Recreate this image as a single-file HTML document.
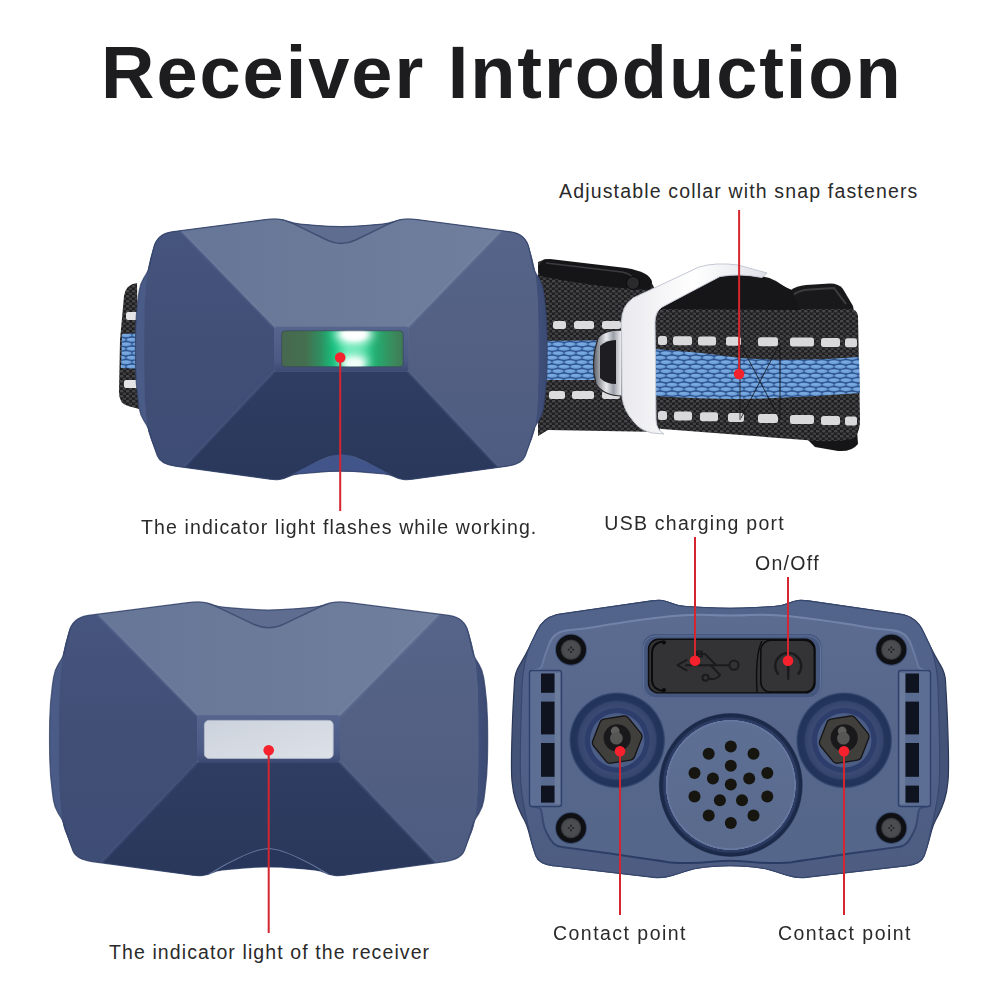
<!DOCTYPE html>
<html lang="en">
<head>
<meta charset="utf-8">
<title>Receiver Introduction</title>
<style>
html,body{margin:0;padding:0;background:#fff;}
body{width:1000px;height:1000px;position:relative;overflow:hidden;font-family:"Liberation Sans",Arial,sans-serif;color:#222;}
.t{position:absolute;white-space:nowrap;line-height:1;}
#title{left:101px;top:36px;font-size:74px;font-weight:bold;color:#1d1d1f;letter-spacing:1.95px;}
.lbl{font-size:19.5px;color:#2a2a2a;}
#art{position:absolute;left:0;top:0;}
</style>
</head>
<body>
<svg id="art" width="1000" height="1000" viewBox="0 0 1000 1000">
<defs>
<linearGradient id="gTop" x1="0" y1="0" x2="1" y2="0"><stop offset="0" stop-color="#667697"/><stop offset=".55" stop-color="#6c7b99"/><stop offset="1" stop-color="#707f9e"/></linearGradient>
<linearGradient id="gLeft" x1="0" y1="0" x2="0" y2="1"><stop offset="0" stop-color="#46557f"/><stop offset=".5" stop-color="#414f76"/><stop offset="1" stop-color="#3e4d75"/></linearGradient>
<linearGradient id="gRight" x1="0" y1="0" x2="0" y2="1"><stop offset="0" stop-color="#56648a"/><stop offset=".5" stop-color="#536083"/><stop offset="1" stop-color="#4e5c82"/></linearGradient>
<linearGradient id="gBot" x1="0" y1="0" x2="0" y2="1"><stop offset="0" stop-color="#2f3d63"/><stop offset="1" stop-color="#29375a"/></linearGradient>
<linearGradient id="gSide" x1="0" y1="0" x2="1" y2="0"><stop offset="0" stop-color="#4a5b87"/><stop offset=".05" stop-color="#4a5b87"/><stop offset=".95" stop-color="#45547e"/><stop offset="1" stop-color="#3c4b74"/></linearGradient>
<linearGradient id="gRecess" x1="0" y1="0" x2="0" y2="1"><stop offset="0" stop-color="#56658d"/><stop offset=".75" stop-color="#4b5a84"/><stop offset="1" stop-color="#3c4a73"/></linearGradient>
<clipPath id="cFace"><path d="M364.8,225.6 Q341.3,227.6 317.8,225.6 L300.3,224.1 Q294.3,223.6 288.8,221.6 L288.0,221.3 Q283.3,219.6 278.3,219.1 L278.3,219.1 Q273.3,218.6 265.4,219.6 L171.9,231.8 Q157.0,233.7 153.1,248.2 L150.3,258.3 Q147.7,268.0 146.7,278.0 L146.1,284.0 Q144.5,300.0 144.3,320.0 L144.2,325.0 Q144.0,350.0 144.2,375.0 L144.3,380.0 Q144.5,400.0 146.1,416.0 L146.7,422.0 Q147.7,432.0 150.9,439.4 L150.9,439.4 Q154.0,446.8 156.8,454.3 L157.2,455.5 Q160.5,464.2 175.4,466.2 L270.0,479.2 Q275.0,479.9 279.5,479.4 L280.0,479.3 Q284.0,478.8 287.6,477.0 L288.1,476.7 Q292.3,474.6 298.3,474.0 L316.8,472.3 Q341.3,470.0 365.8,472.3 L384.3,474.0 Q390.3,474.6 394.5,476.7 L395.0,477.0 Q398.6,478.8 402.6,479.3 L403.1,479.4 Q407.6,479.9 412.6,479.2 L507.2,466.2 Q522.1,464.2 525.4,455.5 L525.8,454.3 Q528.6,446.8 531.7,439.4 L531.8,439.4 Q534.9,432.0 535.9,422.0 L536.5,416.0 Q538.1,400.0 538.3,380.0 L538.4,375.0 Q538.6,350.0 538.4,325.0 L538.3,320.0 Q538.1,300.0 536.5,284.0 L535.9,278.0 Q534.9,268.0 532.3,258.3 L529.5,248.2 Q525.6,233.7 510.7,231.8 L417.2,219.6 Q409.3,218.6 404.3,219.1 L404.3,219.1 Q399.3,219.6 394.6,221.3 L393.8,221.6 Q388.3,223.6 382.3,224.1 Z"/></clipPath>
<filter id="b1" x="-20%" y="-20%" width="140%" height="140%"><feGaussianBlur stdDeviation="1"/></filter>
<filter id="b2" x="-30%" y="-30%" width="160%" height="160%"><feGaussianBlur stdDeviation="2.2"/></filter>
<filter id="b5" x="-50%" y="-50%" width="200%" height="200%"><feGaussianBlur stdDeviation="5"/></filter>
<g id="front">
<path d="M364.8,225.6 Q341.3,227.6 317.8,225.6 L300.3,224.1 Q294.3,223.6 288.8,221.6 L288.0,221.3 Q283.3,219.6 278.3,219.1 L278.3,219.1 Q273.3,218.6 265.4,219.6 L171.9,231.8 Q157.0,233.7 153.6,248.3 L149.4,266.6 Q148.5,270.5 146.4,273.9 L143.8,278.1 Q140.1,284.0 139.2,290.9 L138.0,299.5 Q135.9,315.0 135.6,332.1 L135.6,332.1 Q135.3,349.3 135.6,366.6 L135.6,366.6 Q135.9,384.0 138.0,399.3 L139.1,407.7 Q140.1,414.6 143.8,420.5 L146.4,424.7 Q148.5,428.1 149.6,431.9 L151.7,439.1 Q154.0,446.8 156.8,454.3 L157.2,455.5 Q160.5,464.2 175.4,466.2 L270.0,479.2 Q275.0,479.9 279.5,479.4 L280.0,479.3 Q284.0,478.8 287.6,477.0 L288.1,476.7 Q292.3,474.6 298.3,474.0 L316.8,472.3 Q341.3,470.0 365.8,472.3 L384.3,474.0 Q390.3,474.6 394.5,476.7 L395.0,477.0 Q398.6,478.8 402.6,479.3 L403.1,479.4 Q407.6,479.9 412.6,479.2 L507.2,466.2 Q522.1,464.2 525.4,455.5 L525.8,454.3 Q528.6,446.8 530.9,439.1 L533.0,431.9 Q534.1,428.1 536.2,424.7 L538.8,420.5 Q542.5,414.6 543.5,407.7 L544.6,399.3 Q546.7,384.0 547.0,366.6 L547.0,366.6 Q547.3,349.3 547.0,332.1 L547.0,332.1 Q546.7,315.0 544.6,299.5 L543.4,290.9 Q542.5,284.0 538.8,278.1 L536.2,273.9 Q534.1,270.5 533.2,266.6 L529.0,248.3 Q525.6,233.7 510.7,231.8 L417.2,219.6 Q409.3,218.6 404.3,219.1 L404.3,219.1 Q399.3,219.6 394.6,221.3 L393.8,221.6 Q388.3,223.6 382.3,224.1 Z" fill="url(#gSide)"/>
<g clip-path="url(#cFace)">
<path d="M364.8,225.6 Q341.3,227.6 317.8,225.6 L300.3,224.1 Q294.3,223.6 288.8,221.6 L288.0,221.3 Q283.3,219.6 278.3,219.1 L278.3,219.1 Q273.3,218.6 265.4,219.6 L171.9,231.8 Q157.0,233.7 153.1,248.2 L150.3,258.3 Q147.7,268.0 146.7,278.0 L146.1,284.0 Q144.5,300.0 144.3,320.0 L144.2,325.0 Q144.0,350.0 144.2,375.0 L144.3,380.0 Q144.5,400.0 146.1,416.0 L146.7,422.0 Q147.7,432.0 150.9,439.4 L150.9,439.4 Q154.0,446.8 156.8,454.3 L157.2,455.5 Q160.5,464.2 175.4,466.2 L270.0,479.2 Q275.0,479.9 279.5,479.4 L280.0,479.3 Q284.0,478.8 287.6,477.0 L288.1,476.7 Q292.3,474.6 298.3,474.0 L316.8,472.3 Q341.3,470.0 365.8,472.3 L384.3,474.0 Q390.3,474.6 394.5,476.7 L395.0,477.0 Q398.6,478.8 402.6,479.3 L403.1,479.4 Q407.6,479.9 412.6,479.2 L507.2,466.2 Q522.1,464.2 525.4,455.5 L525.8,454.3 Q528.6,446.8 531.7,439.4 L531.8,439.4 Q534.9,432.0 535.9,422.0 L536.5,416.0 Q538.1,400.0 538.3,380.0 L538.4,375.0 Q538.6,350.0 538.4,325.0 L538.3,320.0 Q538.1,300.0 536.5,284.0 L535.9,278.0 Q534.9,268.0 532.3,258.3 L529.5,248.2 Q525.6,233.7 510.7,231.8 L417.2,219.6 Q409.3,218.6 404.3,219.1 L404.3,219.1 Q399.3,219.6 394.6,221.3 L393.8,221.6 Q388.3,223.6 382.3,224.1 Z" fill="#5d6d93"/>
<path d="M279.3,216.0 L403.3,216.0 L388.8,224.0 L341.3,246.0 L293.8,224.0 Z" fill="#5f6d90"/>
<path d="M281.3,482.0 L401.3,482.0 L377.3,466.5 L341.3,452.0 L305.3,466.5 Z" fill="#41558a"/>
<path d="M178.3,228.0 L274.1,326.8 L274.1,371.6 L183.3,468.0 L126.3,470.0 L126.3,225.0 Z" fill="url(#gLeft)"/>
<path d="M504.3,228.0 L408.5,326.8 L408.5,371.6 L499.3,468.0 L556.3,470.0 L556.3,225.0 Z" fill="url(#gRight)"/>
<path d="M274.1,371.6 L408.5,371.6 L499.3,468.0 L501.3,490.0 L398.6,486.0 L398.6,482.4 Q398.6,478.8 395.1,476.8 L382.5,469.5 Q377.3,466.5 371.9,463.9 L365.8,461.0 Q354.3,455.5 347.8,454.6 L341.3,453.6 L334.8,454.6 Q328.3,455.5 316.8,461.0 L310.7,463.9 Q305.3,466.5 300.1,469.5 L287.5,476.8 Q284.0,478.8 284.0,482.4 L284.0,486.0 L181.3,490.0 L183.3,468.0 Z" fill="url(#gBot)"/>
<path d="M178.3,228.0 L273.3,216.0 L283.3,217.0 L290.5,221.8 Q293.8,224.0 297.4,225.7 L326.9,240.0 Q341.3,247.0 355.7,240.0 L385.2,225.7 Q388.8,224.0 392.1,221.8 L399.3,217.0 L409.3,216.0 L504.3,228.0 L408.5,326.8 L274.1,326.8 Z" fill="url(#gTop)"/>
<path d="M281.3,218.6 L290.1,222.4 Q293.8,224.0 297.4,225.7 L326.9,240.0 Q341.3,247.0 355.7,240.0 L385.2,225.7 Q388.8,224.0 392.5,222.4 L401.3,218.6" fill="none" stroke="#3b4970" stroke-width="1.4" opacity=".85"/>
<path d="M284.0,479.5 L300.2,469.6 Q305.3,466.5 310.7,463.9 L316.8,461.0 Q328.3,455.5 334.8,454.6 L341.3,453.6 L347.8,454.6 Q354.3,455.5 365.8,461.0 L371.9,463.9 Q377.3,466.5 382.4,469.6 L398.6,479.5" fill="none" stroke="#222f52" stroke-width="1.2" opacity=".6"/>
<g filter="url(#b1)" fill="none" stroke-linecap="round">
<path d="M178.3,228 L274.1,326.8" stroke="#7a89ab" stroke-width="1.6" opacity=".55"/>
<path d="M504.3,228 L408.5,326.8" stroke="#8190b0" stroke-width="1.6" opacity=".55"/>
<path d="M183.3,468 L274.1,371.6" stroke="#4c5b84" stroke-width="1.6" opacity=".7"/>
<path d="M499.3,468 L408.5,371.6" stroke="#5d6b90" stroke-width="1.6" opacity=".7"/>
</g>
</g>
<rect x="274.1" y="326.8" width="134.4" height="44.8" rx="3" fill="url(#gRecess)"/>
<path d="M364.8,225.6 Q341.3,227.6 317.8,225.6 L300.3,224.1 Q294.3,223.6 288.8,221.6 L288.0,221.3 Q283.3,219.6 278.3,219.1 L278.3,219.1 Q273.3,218.6 265.4,219.6 L171.9,231.8 Q157.0,233.7 153.6,248.3 L149.4,266.6 Q148.5,270.5 146.4,273.9 L143.8,278.1 Q140.1,284.0 139.2,290.9 L138.0,299.5 Q135.9,315.0 135.6,332.1 L135.6,332.1 Q135.3,349.3 135.6,366.6 L135.6,366.6 Q135.9,384.0 138.0,399.3 L139.1,407.7 Q140.1,414.6 143.8,420.5 L146.4,424.7 Q148.5,428.1 149.6,431.9 L151.7,439.1 Q154.0,446.8 156.8,454.3 L157.2,455.5 Q160.5,464.2 175.4,466.2 L270.0,479.2 Q275.0,479.9 279.5,479.4 L280.0,479.3 Q284.0,478.8 287.6,477.0 L288.1,476.7 Q292.3,474.6 298.3,474.0 L316.8,472.3 Q341.3,470.0 365.8,472.3 L384.3,474.0 Q390.3,474.6 394.5,476.7 L395.0,477.0 Q398.6,478.8 402.6,479.3 L403.1,479.4 Q407.6,479.9 412.6,479.2 L507.2,466.2 Q522.1,464.2 525.4,455.5 L525.8,454.3 Q528.6,446.8 530.9,439.1 L533.0,431.9 Q534.1,428.1 536.2,424.7 L538.8,420.5 Q542.5,414.6 543.5,407.7 L544.6,399.3 Q546.7,384.0 547.0,366.6 L547.0,366.6 Q547.3,349.3 547.0,332.1 L547.0,332.1 Q546.7,315.0 544.6,299.5 L543.4,290.9 Q542.5,284.0 538.8,278.1 L536.2,273.9 Q534.1,270.5 533.2,266.6 L529.0,248.3 Q525.6,233.7 510.7,231.8 L417.2,219.6 Q409.3,218.6 404.3,219.1 L404.3,219.1 Q399.3,219.6 394.6,221.3 L393.8,221.6 Q388.3,223.6 382.3,224.1 Z" fill="none" stroke="#334269" stroke-width="1.2" opacity=".8"/>
</g>
</defs>
<defs>
<pattern id="pWeave" width="6" height="5" patternUnits="userSpaceOnUse"><rect width="6" height="5" fill="#1d1d1f"/><ellipse cx="1.5" cy="1.2" rx="2" ry="1.3" fill="#464649"/><ellipse cx="4.5" cy="3.7" rx="2" ry="1.3" fill="#3f3f42"/></pattern>
<pattern id="pBlue" width="12" height="9" patternUnits="userSpaceOnUse"><rect width="12" height="9" fill="#2f548f"/><ellipse cx="6" cy="2.2" rx="5.7" ry="2" fill="#6c9fd9"/><ellipse cx="5.5" cy="1.8" rx="3.6" ry="1" fill="#80b0e2" opacity=".7"/><ellipse cx="0" cy="6.7" rx="5.7" ry="2" fill="#6c9fd9"/><ellipse cx="12" cy="6.7" rx="5.7" ry="2" fill="#6c9fd9"/><ellipse cx="-.5" cy="6.3" rx="3.6" ry="1" fill="#80b0e2" opacity=".7"/><ellipse cx="11.5" cy="6.3" rx="3.6" ry="1" fill="#80b0e2" opacity=".7"/></pattern>
<linearGradient id="gClip" x1="0" y1="0" x2="1" y2="0"><stop offset="0" stop-color="#e9e9ee"/><stop offset=".5" stop-color="#ffffff"/><stop offset="1" stop-color="#dfe1e8"/></linearGradient>
<linearGradient id="gMetal" x1="0" y1="0" x2="1" y2="0"><stop offset="0" stop-color="#5a5d66"/><stop offset=".45" stop-color="#e8eaee"/><stop offset=".7" stop-color="#9b9fa8"/><stop offset="1" stop-color="#f4f5f7"/></linearGradient>
<linearGradient id="gGreen" x1="0" y1="0" x2="1" y2="0"><stop offset="0" stop-color="#47684f"/><stop offset=".2" stop-color="#44704f"/><stop offset=".32" stop-color="#2f8f60"/><stop offset=".42" stop-color="#17bd7c"/><stop offset=".55" stop-color="#22dc96"/><stop offset=".68" stop-color="#19c784"/><stop offset=".8" stop-color="#27a76d"/><stop offset=".92" stop-color="#3a8a5c"/><stop offset="1" stop-color="#3f7a56"/></linearGradient>
<clipPath id="cGreen"><rect x="281.6" y="330.8" width="121.6" height="36" rx="3.5"/></clipPath>
<linearGradient id="gInd" x1="0" y1="0" x2="1" y2="1"><stop offset="0" stop-color="#ccd2dc"/><stop offset="1" stop-color="#dde1e8"/></linearGradient>
<linearGradient id="gPlate" x1="0" y1="0" x2="0" y2="1"><stop offset="0" stop-color="#5b6c90"/><stop offset=".45" stop-color="#56678b"/><stop offset="1" stop-color="#54668a"/></linearGradient>
<linearGradient id="gPlateEdge" x1="0" y1="0" x2="0" y2="1"><stop offset="0" stop-color="#7385ab"/><stop offset=".35" stop-color="#5d6f96"/><stop offset=".75" stop-color="#3d4e78"/><stop offset="1" stop-color="#2a3b63"/></linearGradient>
<linearGradient id="gBody" x1="0" y1="0" x2="0" y2="1"><stop offset="0" stop-color="#53648b"/><stop offset=".5" stop-color="#506088"/><stop offset="1" stop-color="#4d5c80"/></linearGradient>
<linearGradient id="gRim" x1="0" y1="0" x2="0" y2="1"><stop offset="0" stop-color="#47577d"/><stop offset=".5" stop-color="#435378"/><stop offset="1" stop-color="#43537a"/></linearGradient>
<linearGradient id="gSpkFace" x1="0" y1="0" x2="0" y2="1"><stop offset="0" stop-color="#5d6f93"/><stop offset="1" stop-color="#596a8d"/></linearGradient>
<radialGradient id="gBowl" cx=".5" cy=".5" r=".5"><stop offset="0" stop-color="#2b3d6d"/><stop offset=".52" stop-color="#4d5e84"/><stop offset=".555" stop-color="#4a5c86"/><stop offset=".575" stop-color="#2d3e6d"/><stop offset=".66" stop-color="#2d3e6d"/><stop offset=".69" stop-color="#3a4a72"/><stop offset=".8" stop-color="#35456d"/><stop offset=".84" stop-color="#24355c"/><stop offset=".955" stop-color="#22335a"/><stop offset=".98" stop-color="#33466f"/><stop offset="1" stop-color="#475980"/></radialGradient>
<radialGradient id="gSpk" cx=".5" cy=".5" r=".5"><stop offset="0" stop-color="#66789f"/><stop offset=".9" stop-color="#66789f"/><stop offset=".905" stop-color="#2d3d64"/><stop offset=".93" stop-color="#2b3b62"/><stop offset=".95" stop-color="#1c2b4b"/><stop offset=".985" stop-color="#1a2947"/><stop offset="1" stop-color="#3a4a70"/></radialGradient>
<radialGradient id="gScrew" cx=".5" cy=".5" r=".5"><stop offset="0" stop-color="#4e4f52"/><stop offset=".8" stop-color="#4a4b4e"/><stop offset="1" stop-color="#303134"/></radialGradient>
</defs>
<g id="strap">
<path d="M137,283 Q126,284 124,296 L120,340 L119,392 Q119,404 128,406 L139,409 Z" fill="url(#pWeave)"/>
<path d="M122,334 L142,333 L142,369 L121,368 Z" fill="url(#pBlue)"/>
<rect x="126" y="312" width="14" height="8" rx="2" fill="#e4e4e6"/><rect x="124" y="380" width="14" height="8" rx="2" fill="#e4e4e6"/>
<path d="M538,262 L545,259 L650,279 L660,300 L660,432 L548,430 L538,436 Z" fill="url(#pWeave)"/>
<path d="M538,268 Q540,259 550,259 L626,268 Q650,272 652,282 L650,290 Q600,288 540,276 Z" fill="#151517"/>
<path d="M546,263 L622,272 Q632,274 634,280" stroke="#3c3c40" stroke-width="1.5" fill="none"/>
<circle cx="633" cy="283" r="6.5" fill="#2a2a2d" stroke="#0a0a0b" stroke-width="1"/>
<path d="M540,341 L626,340 L626,380 L540,380 Z" fill="url(#pBlue)"/>
<rect x="553" y="321" width="13" height="8" rx="2.5" fill="#dcdcde"/>
<rect x="574" y="321" width="20" height="8" rx="2.5" fill="#dcdcde"/>
<rect x="602" y="321" width="19" height="8" rx="2.5" fill="#dcdcde"/>
<rect x="549" y="391" width="16" height="8" rx="2.5" fill="#dcdcde"/>
<rect x="572" y="391" width="22" height="8" rx="2.5" fill="#dcdcde"/>
<rect x="602" y="391" width="18" height="8" rx="2.5" fill="#dcdcde"/>
<path d="M598,338 Q604,330 622,330 L622,396 Q604,396 596,384 Q590,362 598,338 Z" fill="url(#gMetal)" stroke="#2a2a2d" stroke-width="1.2"/>
<path d="M600,346 Q606,340 616,340 L616,384 Q606,384 600,378 Z" fill="#1e1e22"/>
<path d="M700,312 L700,292 L738,277 Q762,273 776,281 L793,292 L800,312 Z" fill="#1a1a1c"/>
<path d="M781,300 L791,290 Q796,286 806,285 L830,283.5 Q839,283.5 843,289 L853,306 L854,312 L781,312 Z" fill="#19191b"/>
<path d="M793,295 Q799,290 810,289.5 L834,288 L846,304" stroke="#47474b" stroke-width="2" fill="none" opacity=".8"/>
<path d="M800,432 L857,430 L858,444 Q852,452 838,451 L815,447 Z" fill="#151517"/>
<path d="M658,309 Q654,312 653,326 L655,424 Q656,428 662,429 L818,441 Q852,442 856,436 Q860,430 860,420 L858,316 Q857,309 850,309 Z" fill="url(#pWeave)"/>
<path d="M654,349 Q700,352 740,358 Q800,362 859,357 L860,393 Q800,398 740,399 Q700,399 655,396 Z" fill="url(#pBlue)"/>
<rect x="658" y="336.0" width="9" height="9" rx="2.5" fill="#d9d9db"/>
<rect x="673" y="336.2" width="19" height="9" rx="2.5" fill="#d9d9db"/>
<rect x="698" y="336.5" width="18" height="9" rx="2.5" fill="#d9d9db"/>
<rect x="726" y="336.8" width="15" height="9" rx="2.5" fill="#d9d9db"/>
<rect x="758" y="337.2" width="20" height="9" rx="2.5" fill="#d9d9db"/>
<rect x="790" y="337.6" width="24" height="9" rx="2.5" fill="#d9d9db"/>
<rect x="821" y="338.0" width="19" height="9" rx="2.5" fill="#d9d9db"/>
<rect x="845" y="338.2" width="12" height="9" rx="2.5" fill="#d9d9db"/>
<rect x="658" y="411.0" width="9" height="9" rx="2.5" fill="#d9d9db"/>
<rect x="674" y="411.5" width="18" height="9" rx="2.5" fill="#d9d9db"/>
<rect x="700" y="412.3" width="18" height="9" rx="2.5" fill="#d9d9db"/>
<rect x="728" y="413.1" width="16" height="9" rx="2.5" fill="#d9d9db"/>
<rect x="758" y="414.0" width="20" height="9" rx="2.5" fill="#d9d9db"/>
<rect x="790" y="415.0" width="24" height="9" rx="2.5" fill="#d9d9db"/>
<rect x="821" y="415.9" width="19" height="9" rx="2.5" fill="#d9d9db"/>
<rect x="845" y="416.6" width="12" height="9" rx="2.5" fill="#d9d9db"/>
<g stroke="#141416" stroke-width="1" fill="none" opacity=".8"><path d="M740,345 V420"/><path d="M780,345 V420"/><path d="M741,345 L779,418 M779,345 L741,418"/></g>
<path d="M659,309 L719,276 Q740,272.5 762,277 L792,290 L800,310 Z" fill="#161618"/>
<path d="M621.5,322 Q621.5,306 633,298 L699,267 Q716,262 738,265 L767,273 L762,277.5 Q740,273 720,276.5 L662,307 Q655,312 655,322 L656,420 Q656,429 664,434 L652,433 Q640,430 634,422 Q623,410 622,396 Z" fill="url(#gClip)" stroke="#c4c8d3" stroke-width="1"/>
</g>
<use href="#front"/>
<g clip-path="url(#cGreen)">
<rect x="281.6" y="330.8" width="121.6" height="36" fill="url(#gGreen)"/>
<ellipse cx="354" cy="349" rx="14" ry="22" fill="#9af5cf" opacity=".55" filter="url(#b5)"/>
<ellipse cx="354" cy="334" rx="19" ry="9" fill="#ffffff" filter="url(#b5)"/>
<ellipse cx="354.5" cy="334" rx="12" ry="6.5" fill="#ffffff" filter="url(#b2)"/>
<ellipse cx="354" cy="363" rx="14" ry="7.5" fill="#ffffff" filter="url(#b5)"/>
<ellipse cx="354" cy="364" rx="8.5" ry="4.5" fill="#f2fff9" filter="url(#b2)"/>
</g>
<rect x="281.6" y="330.8" width="121.6" height="36" rx="3.5" fill="none" stroke="#33424f" stroke-width="1" opacity=".6"/>
<g transform="translate(-94.54,372.09) scale(1.064,1.05)">
<use href="#front"/>
<g clip-path="url(#cFace)"><path d="M283.3,479.5 L300.1,469.6 Q305.3,466.5 310.7,463.9 L316.8,461.0 Q328.3,455.5 334.8,454.6 L341.3,453.6 L347.8,454.6 Q354.3,455.5 365.8,461.0 L371.9,463.9 Q377.3,466.5 382.5,469.6 L399.3,479.5 L399.3,488.0 L283.3,488.0 Z" fill="#27365a"/></g>
<path d="M285.3,478.3 L300.1,469.5 Q305.3,466.5 310.7,463.9 L316.8,461.0 Q328.3,455.5 334.8,454.6 L341.3,453.6 L347.8,454.6 Q354.3,455.5 365.8,461.0 L371.9,463.9 Q377.3,466.5 382.5,469.5 L397.3,478.3" fill="none" stroke="#7283aa" stroke-width="1" opacity=".8"/>
</g>
<rect x="204.4" y="720.4" width="128.8" height="38" rx="4.5" fill="url(#gInd)" stroke="#b5bccb" stroke-width=".8"/>
<path d="M756.0,607.5 Q730.0,609.0 704.0,607.5 L686.0,606.5 Q678.0,606.0 672.0,603.5 L671.5,603.3 Q666.0,601.0 662.0,600.5 L662.0,600.5 Q658.0,600.0 650.1,601.1 L559.8,614.2 Q544.0,616.5 537.1,630.9 L529.0,647.8 Q525.5,655.0 521.5,661.9 L519.0,666.1 Q515.0,673.0 514.5,681.0 L513.8,694.0 Q512.5,715.0 511.8,742.5 L511.8,742.5 Q511.0,770.0 512.0,781.0 L512.1,782.0 Q513.0,792.0 515.5,800.0 L515.6,800.4 Q518.0,808.0 521.7,815.1 L524.2,819.7 Q527.0,825.0 528.5,830.8 L531.0,840.3 Q533.0,848.0 535.8,855.5 L536.0,856.0 Q539.0,864.0 552.9,865.6 L654.0,877.3 Q660.0,878.0 665.9,876.9 L668.1,876.4 Q673.0,875.5 677.7,873.8 L684.6,871.4 Q694.0,868.0 704.0,867.2 L712.0,866.5 Q730.0,865.0 748.0,866.5 L756.0,867.2 Q766.0,868.0 775.4,871.4 L782.3,873.8 Q787.0,875.5 791.9,876.4 L794.1,876.9 Q800.0,878.0 806.0,877.3 L907.1,865.6 Q921.0,864.0 924.0,856.0 L924.2,855.5 Q927.0,848.0 929.0,840.3 L931.5,830.8 Q933.0,825.0 935.8,819.7 L938.3,815.1 Q942.0,808.0 944.4,800.4 L944.5,800.0 Q947.0,792.0 947.9,782.0 L948.0,781.0 Q949.0,770.0 948.2,742.5 L948.2,742.5 Q947.5,715.0 946.2,694.0 L945.5,681.0 Q945.0,673.0 941.0,666.1 L938.5,661.9 Q934.5,655.0 931.0,647.8 L922.9,630.9 Q916.0,616.5 900.2,614.2 L809.9,601.1 Q802.0,600.0 798.0,600.5 L798.0,600.5 Q794.0,601.0 788.5,603.3 L788.0,603.5 Q782.0,606.0 774.0,606.5 Z" fill="url(#gRim)" stroke="#2a3757" stroke-width="1.2"/>
<path d="M756.0,607.5 Q730.0,609.0 704.0,607.5 L686.0,606.5 Q678.0,606.0 672.0,603.5 L671.5,603.3 Q666.0,601.0 662.0,600.5 L662.0,600.5 Q658.0,600.0 650.1,601.1 L559.8,614.2 Q544.0,616.5 537.1,630.9 L530.5,644.8 Q527.0,652.0 525.5,659.9 L524.4,665.2 Q522.5,675.0 522.1,685.0 L521.8,695.0 Q521.0,715.0 520.5,742.5 L520.5,742.5 Q520.0,770.0 520.8,781.5 L520.8,783.0 Q521.5,793.0 523.2,802.5 L523.6,804.1 Q525.0,812.0 526.7,819.8 L531.3,840.2 Q533.0,848.0 535.8,855.5 L536.0,856.0 Q539.0,864.0 552.9,865.6 L654.0,877.3 Q660.0,878.0 665.9,876.9 L668.1,876.4 Q673.0,875.5 677.7,873.8 L684.6,871.4 Q694.0,868.0 704.0,867.2 L712.0,866.5 Q730.0,865.0 748.0,866.5 L756.0,867.2 Q766.0,868.0 775.4,871.4 L782.3,873.8 Q787.0,875.5 791.9,876.4 L794.1,876.9 Q800.0,878.0 806.0,877.3 L907.1,865.6 Q921.0,864.0 924.0,856.0 L924.2,855.5 Q927.0,848.0 928.7,840.2 L933.3,819.8 Q935.0,812.0 936.4,804.1 L936.8,802.5 Q938.5,793.0 939.2,783.0 L939.2,781.5 Q940.0,770.0 939.5,742.5 L939.5,742.5 Q939.0,715.0 938.2,695.0 L937.9,685.0 Q937.5,675.0 935.6,665.2 L934.5,659.9 Q933.0,652.0 929.5,644.8 L922.9,630.9 Q916.0,616.5 900.2,614.2 L809.9,601.1 Q802.0,600.0 798.0,600.5 L798.0,600.5 Q794.0,601.0 788.5,603.3 L788.0,603.5 Q782.0,606.0 774.0,606.5 Z" fill="url(#gBody)" stroke="#36476f" stroke-width="1.1"/>
<path d="M750.0,615.0 Q730.0,616.0 710.0,615.0 L710.0,615.0 Q690.0,614.0 670.1,616.3 L659.8,617.5 Q630.0,621.0 607.5,624.8 L594.9,626.9 Q585.0,628.5 575.0,629.5 L567.9,630.2 Q554.0,631.5 549.5,643.2 L547.9,647.5 Q545.0,655.0 543.0,662.0 L542.1,665.2 Q541.0,669.0 537.1,669.7 L533.0,670.5 Q530.0,671.0 530.0,674.0 L530.0,803.0 Q530.0,806.0 533.0,806.5 L537.1,807.3 Q541.0,808.0 541.6,812.0 L543.1,822.1 Q544.0,828.0 546.9,833.2 L550.1,839.0 Q554.0,846.0 561.9,847.1 L610.1,853.6 Q620.0,855.0 629.9,856.5 L654.1,860.1 Q660.0,861.0 665.9,861.8 L668.1,862.2 Q674.0,863.0 680.0,863.0 L688.0,863.0 Q700.0,863.0 711.9,861.8 L715.0,861.5 Q730.0,860.0 745.0,861.5 L748.1,861.8 Q760.0,863.0 772.0,863.0 L780.0,863.0 Q786.0,863.0 791.9,862.2 L794.1,861.8 Q800.0,861.0 805.9,860.1 L830.1,856.5 Q840.0,855.0 849.9,853.6 L898.1,847.1 Q906.0,846.0 909.9,839.0 L913.1,833.2 Q916.0,828.0 916.9,822.1 L918.4,812.0 Q919.0,808.0 922.9,807.3 L927.0,806.5 Q930.0,806.0 930.0,803.0 L930.0,674.0 Q930.0,671.0 927.0,670.5 L922.9,669.7 Q919.0,669.0 917.9,665.2 L917.0,662.0 Q915.0,655.0 912.1,647.5 L910.5,643.2 Q906.0,631.5 892.1,630.2 L885.0,629.5 Q875.0,628.5 865.1,626.9 L852.5,624.8 Q830.0,621.0 800.2,617.5 L789.9,616.3 Q770.0,614.0 750.0,615.0 Z" fill="url(#gPlate)"/>
<path d="M750.0,615.0 Q730.0,616.0 710.0,615.0 L710.0,615.0 Q690.0,614.0 670.1,616.3 L659.8,617.5 Q630.0,621.0 607.5,624.8 L594.9,626.9 Q585.0,628.5 575.0,629.5 L567.9,630.2 Q554.0,631.5 549.5,643.2 L547.9,647.5 Q545.0,655.0 543.0,662.0 L542.1,665.2 Q541.0,669.0 537.1,669.7 L533.0,670.5 Q530.0,671.0 530.0,674.0 L530.0,803.0 Q530.0,806.0 533.0,806.5 L537.1,807.3 Q541.0,808.0 541.6,812.0 L543.1,822.1 Q544.0,828.0 546.9,833.2 L550.1,839.0 Q554.0,846.0 561.9,847.1 L610.1,853.6 Q620.0,855.0 629.9,856.5 L654.1,860.1 Q660.0,861.0 665.9,861.8 L668.1,862.2 Q674.0,863.0 680.0,863.0 L688.0,863.0 Q700.0,863.0 711.9,861.8 L715.0,861.5 Q730.0,860.0 745.0,861.5 L748.1,861.8 Q760.0,863.0 772.0,863.0 L780.0,863.0 Q786.0,863.0 791.9,862.2 L794.1,861.8 Q800.0,861.0 805.9,860.1 L830.1,856.5 Q840.0,855.0 849.9,853.6 L898.1,847.1 Q906.0,846.0 909.9,839.0 L913.1,833.2 Q916.0,828.0 916.9,822.1 L918.4,812.0 Q919.0,808.0 922.9,807.3 L927.0,806.5 Q930.0,806.0 930.0,803.0 L930.0,674.0 Q930.0,671.0 927.0,670.5 L922.9,669.7 Q919.0,669.0 917.9,665.2 L917.0,662.0 Q915.0,655.0 912.1,647.5 L910.5,643.2 Q906.0,631.5 892.1,630.2 L885.0,629.5 Q875.0,628.5 865.1,626.9 L852.5,624.8 Q830.0,621.0 800.2,617.5 L789.9,616.3 Q770.0,614.0 750.0,615.0 Z" fill="none" stroke="url(#gPlateEdge)" stroke-width="2"/>
<rect x="529.5" y="670.5" width="32.0" height="136" rx="2.5" fill="#5c6e93" stroke="#2f406b" stroke-width="1.4"/>
<rect x="554.5" y="673" width="5.5" height="131" fill="#6b7b9c"/>
<rect x="541.0" y="673" width="13.5" height="131" fill="#5a6b92"/>
<rect x="541.0" y="673.5" width="13.5" height="19.3" fill="#0f131f"/>
<rect x="541.0" y="701.6" width="13.5" height="32.8" fill="#0f131f"/>
<rect x="541.0" y="743" width="13.5" height="33.8" fill="#0f131f"/>
<rect x="541.0" y="785.6" width="13.5" height="17.0" fill="#0f131f"/>
<rect x="898.5" y="670.5" width="32.0" height="136" rx="2.5" fill="#5c6e93" stroke="#2f406b" stroke-width="1.4"/>
<rect x="900.0" y="673" width="5.5" height="131" fill="#6b7b9c"/>
<rect x="905.5" y="673" width="13.5" height="131" fill="#5a6b92"/>
<rect x="905.5" y="673.5" width="13.5" height="19.3" fill="#0f131f"/>
<rect x="905.5" y="701.6" width="13.5" height="32.8" fill="#0f131f"/>
<rect x="905.5" y="743" width="13.5" height="33.8" fill="#0f131f"/>
<rect x="905.5" y="785.6" width="13.5" height="17.0" fill="#0f131f"/>
<circle cx="571" cy="649.7" r="16" fill="#2b3a63" opacity=".6"/>
<circle cx="571" cy="649.7" r="15" fill="#0f1014"/>
<circle cx="571" cy="649.7" r="10.3" fill="url(#gScrew)"/>
<path d="M567.8,649.7 H574.2 M571,646.5 V652.9000000000001" stroke="#222326" stroke-width="1.7" stroke-dasharray="2 2.4"/>
<circle cx="891.3" cy="649.7" r="16" fill="#2b3a63" opacity=".6"/>
<circle cx="891.3" cy="649.7" r="15" fill="#0f1014"/>
<circle cx="891.3" cy="649.7" r="10.3" fill="url(#gScrew)"/>
<path d="M888.0999999999999,649.7 H894.5 M891.3,646.5 V652.9000000000001" stroke="#222326" stroke-width="1.7" stroke-dasharray="2 2.4"/>
<circle cx="571" cy="828" r="16" fill="#2b3a63" opacity=".6"/>
<circle cx="571" cy="828" r="15" fill="#0f1014"/>
<circle cx="571" cy="828" r="10.3" fill="url(#gScrew)"/>
<path d="M567.8,828 H574.2 M571,824.8 V831.2" stroke="#222326" stroke-width="1.7" stroke-dasharray="2 2.4"/>
<circle cx="891.3" cy="828" r="16" fill="#2b3a63" opacity=".6"/>
<circle cx="891.3" cy="828" r="15" fill="#0f1014"/>
<circle cx="891.3" cy="828" r="10.3" fill="url(#gScrew)"/>
<path d="M888.0999999999999,828 H894.5 M891.3,824.8 V831.2" stroke="#222326" stroke-width="1.7" stroke-dasharray="2 2.4"/>
<rect x="642.5" y="634" width="179" height="64.5" rx="13" fill="#46577e"/>
<rect x="643.5" y="636" width="177" height="62" rx="12" fill="none" stroke="#6b7fa9" stroke-width="1" opacity=".7"/>
<rect x="648.5" y="639.3" width="166.5" height="53.6" rx="10" fill="#333336" stroke="#0c0c0e" stroke-width="1.4"/>
<path d="M664,641.5 Q653,642 652,652 L652,681 Q653,690 664,691" stroke="#0a0a0c" stroke-width="2" fill="none"/>
<circle cx="664" cy="642.5" r="2" fill="#0a0a0c"/><circle cx="664" cy="690" r="2" fill="#0a0a0c"/>
<rect x="760.8" y="640.3" width="53.5" height="51.8" rx="10" fill="#343437" stroke="#0c0c0e" stroke-width="1.5"/>
<path d="M762,641 Q755,654 757,692" stroke="#0c0c0e" stroke-width="1.4" fill="none"/>
<g stroke="#1b1b1d" stroke-width="2" fill="none" stroke-linecap="round" stroke-linejoin="round"><path d="M686,665.2 H729.5"/><path d="M686.5,660 L677.5,665.2 L686.5,670.4"/><path d="M716,665 L705,654 H698 M697,651.5 v5 h5 v-5 z"/><path d="M711,665.5 L720,675 Q716,680.5 709,678.5"/><circle cx="734" cy="665.2" r="4.6"/><circle cx="705.5" cy="677.7" r="3"/></g>
<g stroke="#1b1b1d" stroke-width="2.4" fill="none" stroke-linecap="round"><path d="M777.8,673.7 A13,13 0 1 1 798.6,673.7"/><path d="M788.2,666.5 V678.8"/></g>
<circle cx="730.8" cy="785" r="72" fill="url(#gSpk)"/>
<circle cx="730.8" cy="785" r="63.4" fill="url(#gSpkFace)"/>
<circle cx="730.8" cy="746.6" r="6" fill="#16150f"/>
<circle cx="708.7" cy="753.8" r="6" fill="#16150f"/>
<circle cx="753.5" cy="753.8" r="6" fill="#16150f"/>
<circle cx="730.8" cy="765.8" r="6" fill="#16150f"/>
<circle cx="694.5" cy="773.0" r="6" fill="#16150f"/>
<circle cx="767.3" cy="773.0" r="6" fill="#16150f"/>
<circle cx="712.9" cy="778.6" r="6" fill="#16150f"/>
<circle cx="749.2" cy="778.6" r="6" fill="#16150f"/>
<circle cx="730.8" cy="784.5" r="6" fill="#16150f"/>
<circle cx="694.5" cy="796.5" r="6" fill="#16150f"/>
<circle cx="767.3" cy="796.5" r="6" fill="#16150f"/>
<circle cx="719.9" cy="800.2" r="6" fill="#16150f"/>
<circle cx="742.0" cy="800.2" r="6" fill="#16150f"/>
<circle cx="708.7" cy="815.4" r="6" fill="#16150f"/>
<circle cx="753.5" cy="815.4" r="6" fill="#16150f"/>
<circle cx="730.8" cy="822.9" r="6" fill="#16150f"/>
<circle cx="617.2" cy="740.3" r="48" fill="url(#gBowl)"/>
<path d="M640.8,733.2 Q642.7,735.6 641.6,738.4 L634.5,756.8 Q633.4,759.7 630.5,760.1 L610.9,763.2 Q608.0,763.7 606.1,761.4 L593.6,746.0 Q591.7,743.6 592.8,740.8 L599.9,722.4 Q601.0,719.5 603.9,719.1 L623.5,716.0 Q626.4,715.5 628.3,717.8 Z" fill="#403f3c" stroke="#151517" stroke-width="1.3"/>
<circle cx="617.2" cy="737.8" r="13.6" fill="#19191b"/>
<circle cx="615.2" cy="731.0" r="4.4" fill="#5f5f5d"/>
<circle cx="616.4000000000001" cy="738.3" r="6.3" fill="#565654"/>
<circle cx="844.2" cy="740.3" r="48" fill="url(#gBowl)"/>
<path d="M867.8,733.2 Q869.7,735.6 868.6,738.4 L861.5,756.8 Q860.4,759.7 857.5,760.1 L837.9,763.2 Q835.0,763.7 833.1,761.4 L820.6,746.0 Q818.7,743.6 819.8,740.8 L826.9,722.4 Q828.0,719.5 830.9,719.1 L850.5,716.0 Q853.4,715.5 855.3,717.8 Z" fill="#403f3c" stroke="#151517" stroke-width="1.3"/>
<circle cx="844.2" cy="737.8" r="13.6" fill="#19191b"/>
<circle cx="842.2" cy="731.0" r="4.4" fill="#5f5f5d"/>
<circle cx="843.4000000000001" cy="738.3" r="6.3" fill="#565654"/>
<rect x="738.1" y="210.0" width="2" height="164.0" fill="#d5262f"/>
<circle cx="739.1" cy="374.0" r="5.3" fill="#f5222d"/>
<rect x="339.2" y="357.5" width="2" height="153.5" fill="#d5262f"/>
<circle cx="340.2" cy="357.5" r="5.3" fill="#f5222d"/>
<rect x="694.0" y="537.0" width="2" height="123.8" fill="#d5262f"/>
<circle cx="695.0" cy="660.8" r="5.3" fill="#f5222d"/>
<rect x="787.0" y="577.0" width="2" height="83.8" fill="#d5262f"/>
<circle cx="788.0" cy="660.8" r="5.3" fill="#f5222d"/>
<rect x="267.7" y="750.2" width="2" height="182.8" fill="#d5262f"/>
<circle cx="268.7" cy="750.2" r="5.3" fill="#f5222d"/>
<rect x="619.0" y="751.2" width="2" height="163.8" fill="#d5262f"/>
<circle cx="620.0" cy="751.2" r="5.3" fill="#f5222d"/>
<rect x="843.0" y="751.2" width="2" height="163.8" fill="#d5262f"/>
<circle cx="844.0" cy="751.2" r="5.3" fill="#f5222d"/>
</svg>
<div class="t" id="title">Receiver Introduction</div>
<div class="t lbl" id="l1" style="left:559px;top:182.3px;letter-spacing:1.161px">Adjustable collar with snap fasteners</div>
<div class="t lbl" id="l2" style="left:141px;top:517.5px;letter-spacing:1.129px">The indicator light flashes while working.</div>
<div class="t lbl" id="l3" style="left:604.3px;top:514px;letter-spacing:1.251px">USB charging port</div>
<div class="t lbl" id="l4" style="left:755px;top:553.5px;letter-spacing:1.3px">On/Off</div>
<div class="t lbl" id="l5" style="left:109px;top:943px;letter-spacing:1.094px">The indicator light of the receiver</div>
<div class="t lbl" id="l6" style="left:553px;top:924.4px;letter-spacing:1.467px">Contact point</div>
<div class="t lbl" id="l7" style="left:778px;top:924.4px;letter-spacing:1.467px">Contact point</div>
</body>
</html>
